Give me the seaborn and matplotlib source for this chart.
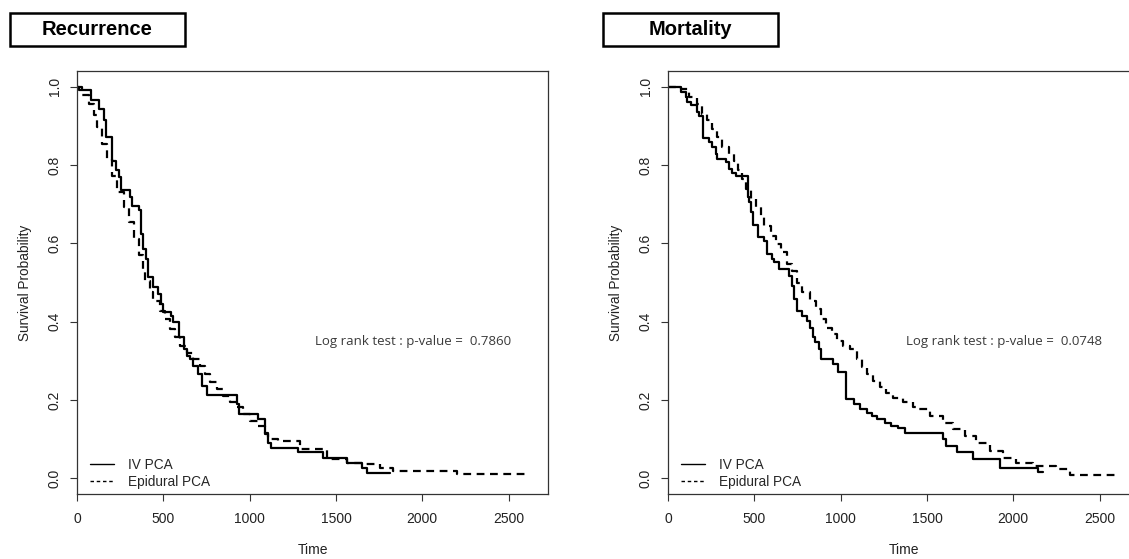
import matplotlib
matplotlib.use("Agg")
import matplotlib.pyplot as plt
from matplotlib.patches import Rectangle
from matplotlib.lines import Line2D
import seaborn as sns
import pandas as pd

# Recurrence - IV PCA (step drop times and new survival level)
rec_iv_time = [0, 13, 83, 125, 158, 170, 203, 228, 241, 255, 309, 319, 357, 371, 382, 400, 409,
               442, 471, 485, 500, 543, 558, 591, 622, 635, 654, 674, 703, 722, 751, 925, 940,
               1050, 1089, 1107, 1125, 1282, 1427, 1562, 1649, 1680, 1813]
rec_iv_surv = [1.0, 0.992, 0.967, 0.944, 0.914, 0.871, 0.811, 0.786, 0.769, 0.735, 0.718, 0.696,
               0.684, 0.624, 0.586, 0.56, 0.513, 0.488, 0.471, 0.445, 0.424, 0.415, 0.40, 0.362,
               0.33, 0.313, 0.304, 0.287, 0.266, 0.236, 0.213, 0.19, 0.164, 0.151, 0.113, 0.091,
               0.078, 0.066, 0.053, 0.04, 0.027, 0.013, 0.013]

# Recurrence - Epidural PCA
rec_epi_time = [0, 29, 68, 97, 116, 145, 174, 203, 232, 270, 299, 328, 357, 380, 394, 423, 442,
                481, 510, 539, 568, 597, 635, 674, 712, 741, 770, 809, 848, 886, 925, 960, 1002,
                1050, 1089, 1108, 1166, 1290, 1446, 1562, 1658, 1755, 1832, 2199, 2614]
rec_epi_surv = [1.0, 0.978, 0.957, 0.927, 0.897, 0.854, 0.816, 0.773, 0.731, 0.692, 0.654, 0.611,
                0.569, 0.526, 0.505, 0.475, 0.453, 0.428, 0.407, 0.381, 0.36, 0.338, 0.321, 0.304,
                0.287, 0.266, 0.245, 0.228, 0.21, 0.194, 0.181, 0.165, 0.147, 0.134, 0.117, 0.1,
                0.095, 0.074, 0.049, 0.04, 0.036, 0.027, 0.019, 0.01, 0.01]

# Mortality - IV PCA
mort_iv_time = [0, 74, 102, 112, 131, 170, 178, 204, 237, 256, 276, 285, 334, 353, 372, 391, 461,
                472, 481, 495, 522, 555, 575, 600, 616, 645, 664, 700, 720, 732, 745, 774, 803,
                822, 837, 851, 876, 889, 957, 986, 1030, 1080, 1111, 1150, 1179, 1208, 1256,
                1294, 1333, 1372, 1593, 1613, 1671, 1767, 1921, 2143, 2172]
mort_iv_surv = [1.0, 0.986, 0.974, 0.961, 0.952, 0.935, 0.925, 0.869, 0.859, 0.846, 0.829, 0.816,
                0.807, 0.79, 0.78, 0.771, 0.718, 0.705, 0.68, 0.648, 0.616, 0.605, 0.573, 0.56,
                0.552, 0.535, 0.535, 0.517, 0.49, 0.458, 0.428, 0.415, 0.402, 0.385, 0.36,
                0.347, 0.33, 0.304, 0.292, 0.272, 0.202, 0.189, 0.176, 0.168, 0.159, 0.151,
                0.142, 0.134, 0.128, 0.117, 0.1, 0.083, 0.066, 0.049, 0.027, 0.015, 0.015]

# Mortality - Epidural PCA
mort_epi_time = [0, 74, 122, 170, 199, 228, 256, 285, 314, 353, 382, 405, 430, 450, 478, 508, 536,
                 556, 594, 623, 652, 691, 720, 745, 774, 822, 860, 889, 918, 947, 980, 1014, 1053,
                 1092, 1121, 1150, 1188, 1227, 1265, 1304, 1362, 1420, 1439, 1516, 1593, 1651,
                 1719, 1786, 1863, 1940, 2018, 2114, 2249, 2326, 2600]
mort_epi_surv = [1.0, 0.995, 0.974, 0.957, 0.931, 0.914, 0.893, 0.871, 0.846, 0.829, 0.811, 0.786,
                 0.765, 0.739, 0.714, 0.692, 0.671, 0.645, 0.62, 0.598, 0.577, 0.547, 0.53, 0.5,
                 0.475, 0.453, 0.432, 0.407, 0.385, 0.368, 0.35, 0.338, 0.33, 0.304, 0.283,
                 0.266, 0.249, 0.232, 0.219, 0.206, 0.194, 0.181, 0.176, 0.159, 0.142, 0.125,
                 0.108, 0.091, 0.07, 0.053, 0.04, 0.032, 0.023, 0.008, 0.008]

panel_titles = ["Recurrence", "Mortality"]
p_values = ["0.7860", "0.0748"]
group_labels = ["IV PCA", "Epidural PCA"]
x_ticks = [0, 500, 1000, 1500, 2000, 2500]
y_ticks = [0.0, 0.2, 0.4, 0.6, 0.8, 1.0]

sns.set_style("white")
plt.rcParams['font.family'] = ['Liberation Sans', 'DejaVu Sans']

W, H = 1129, 559
fig = plt.figure(figsize=(W / 100, H / 100), dpi=100)

panels = [
    (77, (rec_iv_time, rec_iv_surv), (rec_epi_time, rec_epi_surv)),
    (668, (mort_iv_time, mort_iv_surv), (mort_epi_time, mort_epi_surv)),
]
box_x = [10, 603]
frame_col = "#333333"

for i, (left_px, iv, epi) in enumerate(panels):
    ax = fig.add_axes([left_px / W, (H - 494) / H, 471 / W, 423 / H])
    df_iv = pd.DataFrame({"Time": iv[0], "Survival": iv[1]})
    df_epi = pd.DataFrame({"Time": epi[0], "Survival": epi[1]})
    sns.lineplot(data=df_iv, x="Time", y="Survival", ax=ax, drawstyle="steps-post",
                 color="black", lw=1.6, sort=False, errorbar=None)
    sns.lineplot(data=df_epi, x="Time", y="Survival", ax=ax, drawstyle="steps-post",
                 color="black", lw=1.6, linestyle=(0, (3.5, 2.5)), sort=False, errorbar=None)

    ax.set_xlim(0, 2728)
    ax.set_ylim(-0.04, 1.04)
    ax.set_xticks(x_ticks)
    ax.set_xticklabels([str(t) for t in x_ticks])
    ax.set_yticks(y_ticks)
    ax.set_yticklabels([f"{v:.1f}" for v in y_ticks], rotation=90, va="center")
    ax.tick_params(axis="both", direction="out", length=5, width=0.8, color=frame_col,
                   labelsize=10, labelcolor="#222222", left=True, bottom=True)
    ax.tick_params(axis="x", pad=8)
    ax.tick_params(axis="y", pad=6)
    for sp in ax.spines.values():
        sp.set_color(frame_col)
        sp.set_linewidth(0.9)
    ax.set_xlabel("Time", fontsize=10, labelpad=12, color="#222222")
    ax.set_ylabel("Survival Probability", fontsize=9.8, labelpad=11, color="#222222")

    ax.text(1379, 0.35, f"Log rank test : p-value =  {p_values[i]}", fontsize=9.5,
            family=["Open Sans", "DejaVu Sans"], color="#3a3a3a", ha="left", va="center")

    handles = [Line2D([], [], color="black", lw=1.0),
               Line2D([], [], color="black", lw=1.0, linestyle=(0, (2.5, 2)))]
    ax.legend(handles, group_labels, loc="lower left", bbox_to_anchor=(0.028, 0.012),
              frameon=False, fontsize=9.8, handlelength=1.75, handletextpad=1.0,
              labelspacing=0.25, borderpad=0, borderaxespad=0)

    # title box
    fig.patches.append(Rectangle((box_x[i] / W, (H - 46) / H), 175 / W, 33 / H,
                                 transform=fig.transFigure, fill=False,
                                 edgecolor="black", lw=1.8))
    fig.text((box_x[i] + 87.5) / W, (H - 29.5) / H, panel_titles[i], fontsize=14.5,
             fontweight="bold", ha="center", va="center", color="black")

fig.savefig("out.png", dpi=100)
